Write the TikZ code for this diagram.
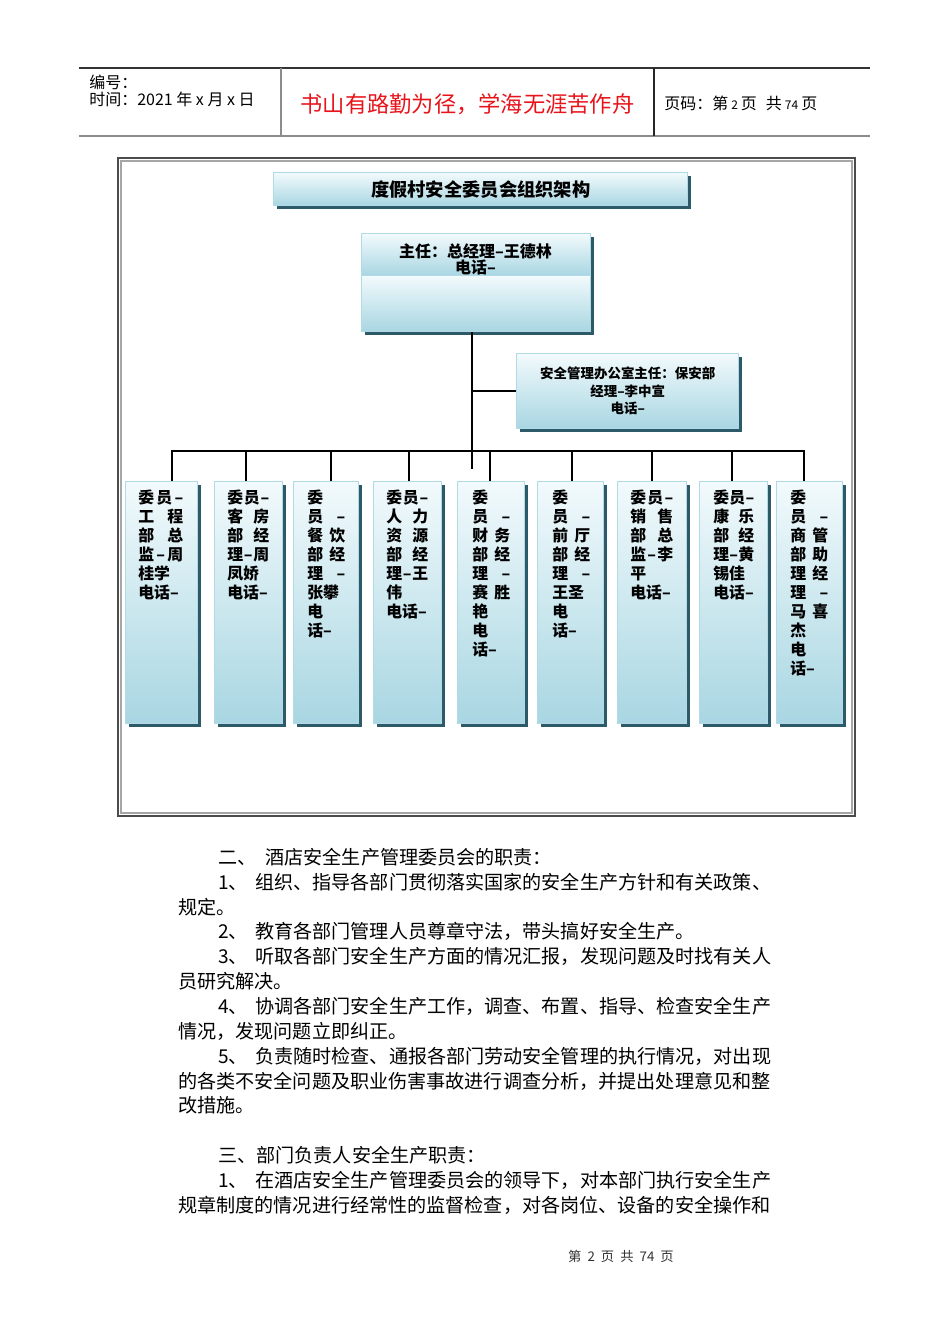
\documentclass[tikz,border=0pt]{standalone}
\usepackage{fontspec}
\setmainfont{Noto Sans CJK SC}
\usetikzlibrary{positioning,calc,shadows}

\newdimen\pxu \pxu=0.75pt
\newlength{\lw}
\newcommand{\jl}[2]{\makebox[\lw][s]{#1\hfill#2}}
\newcommand{\jlt}[3]{\makebox[\lw][s]{#1\hfill#2\hfill#3}}
\newcommand{\num}[1]{\makebox[37\pxu][l]{#1}}
\newcommand{\gap}{\hspace{6\pxu}}
\newcommand{\sgap}{\hspace{3\pxu}}

\definecolor{boxtop}{HTML}{F2FAFC}
\definecolor{boxbot}{HTML}{A8D6E2}
\definecolor{boxline}{HTML}{B2DAE6}
\definecolor{boxshadow}{HTML}{2C5A68}
\definecolor{mottored}{HTML}{E8141B}

\tikzset{
  orgbox/.style={draw=boxline, line width=1.1pt, top color=boxtop, bottom color=boxbot,
    inner sep=0pt, anchor=north west,
    drop shadow={shadow xshift=2.2pt, shadow yshift=-2.2pt, fill=boxshadow, opacity=1}},
  membertext/.style={anchor=north west, inner sep=0pt, align=left,
    font=\bfseries\fontsize{11.9pt}{14.25pt}\selectfont},
  lw/.style={execute at begin node={\setlength{\lw}{#1\pxu}}},
  headtext/.style={anchor=west, inner sep=0pt, font=\fontsize{12pt}{14pt}\selectfont},
  bodyline/.style={anchor=west, inner sep=0pt, font=\fontsize{14.33pt}{18pt}\selectfont},
  link/.style={line width=1.5pt, black},
}

\begin{document}
\begin{tikzpicture}[x=0.75pt, y=-0.75pt]
\fill[white] (0,0) rectangle (950,1344);
\useasboundingbox (0,0) rectangle (950,1344);

% header
\draw[line width=0.8pt, black!80] (79,68) -- (870,68);
\draw[line width=1.6pt, black!45] (79,136) -- (870,136);
\draw[line width=1.2pt, black!45] (281,68) -- (281,136);
\draw[line width=0.8pt, black!85] (654,68) -- (654,136);
\node[headtext] (docno) at (89,82) {编号：};
\node[headtext] (docdate) at (89,99) {时间：2021 年 x 月 x 日};
\node[inner sep=0pt, text=mottored, font=\fontsize{16.7pt}{18pt}\selectfont] (motto) at (467.5,104) {书山有路勤为径，学海无涯苦作舟};
\node[headtext] (pageno) at (664,103) {页码：第{\fontsize{9pt}{9pt}\selectfont\sgap 2\sgap}页\hspace{9\pxu}共{\fontsize{9pt}{9pt}\selectfont\sgap 74\sgap}页};

% frame of the chart
\draw[line width=1.5pt, black!70] (118,158) rectangle (855,816);
\draw[line width=0.8pt, black!35] (121,161) rectangle (852,813);

% title and chief
\node[orgbox, minimum width=414*0.75pt, minimum height=33*0.75pt,
  font=\bfseries\fontsize{13.7pt}{15pt}\selectfont] (title) at (273,172) {度假村安全委员会组织架构};
\node[orgbox, minimum width=229*0.75pt, minimum height=42*0.75pt] (chieftop) at (361,233) {};
\node[align=center, inner sep=0pt, font=\bfseries\fontsize{12pt}{11.25pt}\selectfont] (chieftext) at (475.5,259.5) {主任：总经理–王德林\\电话–};
\node[orgbox, minimum width=229*0.75pt, minimum height=56*0.75pt] (chiefbot) at (361,275) {};

% safety office
\node[orgbox, minimum width=222*0.75pt, minimum height=75*0.75pt, align=center,
  font=\bfseries\fontsize{10.1pt}{13.1pt}\selectfont] (safety) at (516,353) {安全管理办公室主任：保安部\\经理–李中宣\\电话–};

% member boxes
\foreach \i/\x/\w in {1/125/72, 2/214/68, 3/293/65, 4/373/68, 5/457/67, 6/537/66, 7/617/69, 8/699/68, 9/776/66}
  \node[orgbox, minimum width=\w*0.75pt, minimum height=242*0.75pt] (m\i) at (\x,481) {};

\node[membertext, lw=45] (t1) at ([shift={(13,9)}]m1.north west) {\jlt{委}{员}{–}\\\jl{工}{程}\\\jl{部}{总}\\\jlt{监}{–}{周}\\桂学\\电话–};
\node[membertext, lw=42] (t2) at ([shift={(13,9)}]m2.north west) {\jlt{委}{员}{–}\\\jl{客}{房}\\\jl{部}{经}\\\jlt{理}{–}{周}\\凤娇\\电话–};
\node[membertext, lw=38] (t3) at ([shift={(14,9)}]m3.north west) {委\\\jl{员}{–}\\\jl{餐}{饮}\\\jl{部}{经}\\\jl{理}{–}\\张攀\\电\\话–};
\node[membertext, lw=42] (t4) at ([shift={(13,9)}]m4.north west) {\jlt{委}{员}{–}\\\jl{人}{力}\\\jl{资}{源}\\\jl{部}{经}\\\jlt{理}{–}{王}\\伟\\电话–};
\node[membertext, lw=38] (t5) at ([shift={(15,9)}]m5.north west) {委\\\jl{员}{–}\\\jl{财}{务}\\\jl{部}{经}\\\jl{理}{–}\\\jl{赛}{胜}\\艳\\电\\话–};
\node[membertext, lw=38] (t6) at ([shift={(15,9)}]m6.north west) {委\\\jl{员}{–}\\\jl{前}{厅}\\\jl{部}{经}\\\jl{理}{–}\\王圣\\电\\话–};
\node[membertext, lw=43] (t7) at ([shift={(13,9)}]m7.north west) {\jlt{委}{员}{–}\\\jl{销}{售}\\\jl{部}{总}\\\jlt{监}{–}{李}\\平\\电话–};
\node[membertext, lw=41] (t8) at ([shift={(14,9)}]m8.north west) {\jlt{委}{员}{–}\\\jl{康}{乐}\\\jl{部}{经}\\\jlt{理}{–}{黄}\\锡佳\\电话–};
\node[membertext, lw=38] (t9) at ([shift={(14,9)}]m9.north west) {委\\\jl{员}{–}\\\jl{商}{管}\\\jl{部}{助}\\\jl{理}{经}\\\jl{理}{–}\\\jl{马}{喜}\\杰\\电\\话–};

% connectors
\coordinate (bus) at (0,451);
\coordinate (trunkend) at (472,469);
\draw[link] (trunkend |- chiefbot.south) -- (trunkend);
\draw[link] (trunkend |- safety.west) -- (safety.west);
\foreach \i/\dx in {1/10, 2/-3, 3/4.5, 4/1, 5/-1.5, 6/1, 7/-0.5, 8/-2, 9/-6} {
  \path (m\i.north) ++(\dx,0) coordinate (d\i);
  \draw[link] (d\i) -- (d\i |- bus);
}
\draw[link, line cap=rect] (d1 |- bus) -- (d9 |- bus);

% body text
\foreach \x/\y/\t [count=\k] in {
  218/857/二、\hspace{9\pxu}酒店安全生产管理委员会的职责：,
  218/882/\num{1、}组织、指导各部门贯彻落实国家的安全生产方针和有关政策、,
  178/907/规定。,
  218/931/\num{2、}教育各部门管理人员尊章守法，带头搞好安全生产。,
  218/956/\num{3、}听取各部门安全生产方面的情况汇报，发现问题及时找有关人,
  178/981/员研究解决。,
  218/1006/\num{4、}协调各部门安全生产工作，调查、布置、指导、检查安全生产,
  178/1031/情况，发现问题立即纠正。,
  218/1056/\num{5、}负责随时检查、通报各部门劳动安全管理的执行情况，对出现,
  178/1081/的各类不安全问题及职业伤害事故进行调查分析，并提出处理意见和整,
  178/1105/改措施。,
  218/1155/三、部门负责人安全生产职责：,
  218/1180/\num{1、}在酒店安全生产管理委员会的领导下，对本部门执行安全生产,
  178/1205/规章制度的情况进行经常性的监督检查，对各岗位、设备的安全操作和}
  \node[bodyline] (body\k) at (\x,\y) {\t};

% footer
\node[inner sep=0pt, text=black!80, font=\fontsize{10pt}{12pt}\selectfont] (footer) at (621,1256) {第\gap 2\gap 页\gap 共\gap 74\gap 页};
\end{tikzpicture}
\end{document}
